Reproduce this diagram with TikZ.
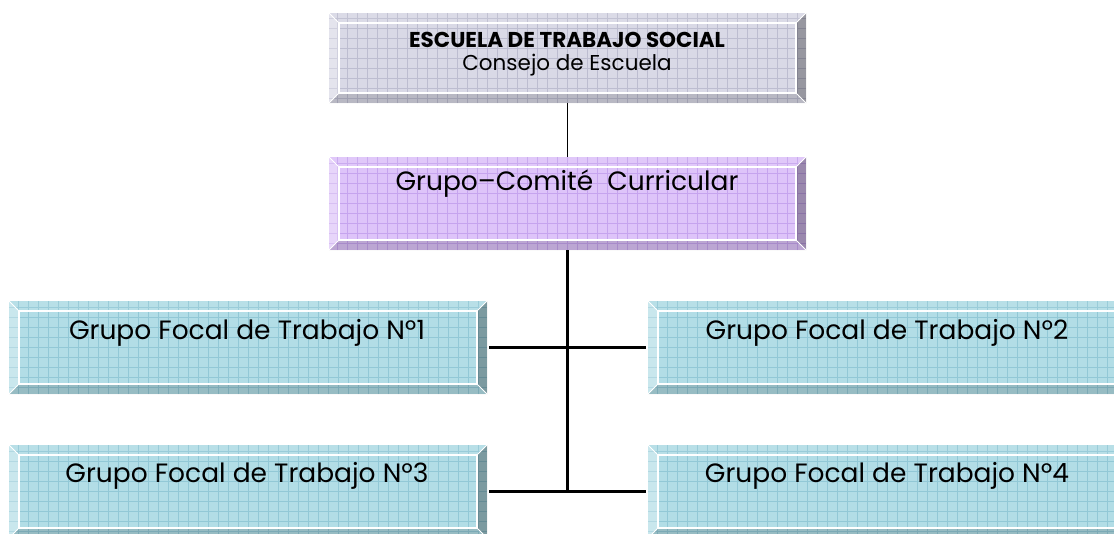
\documentclass[tikz,border=0pt]{standalone}
\usepackage{fontspec}
\setmainfont{Poppins}
\usetikzlibrary{calc}
\definecolor{grayF}{HTML}{D9D9E6}
\definecolor{grayG}{HTML}{BDBDD0}
\definecolor{purpF}{HTML}{DEC4F9}
\definecolor{purpG}{HTML}{C6A4EE}
\definecolor{tealF}{HTML}{B2DDE6}
\definecolor{tealG}{HTML}{92C8D6}
\tikzset{
  bev/.style n args={2}{rectangle, inner sep=0pt, fill=#1,
    path picture={
      \coordinate (NW) at (path picture bounding box.north west);
      \coordinate (NE) at (path picture bounding box.north east);
      \coordinate (SW) at (path picture bounding box.south west);
      \coordinate (SE) at (path picture bounding box.south east);
      \coordinate (nw) at ($(NW)+(10pt,-10pt)$);
      \coordinate (ne) at ($(NE)+(-10pt,-10pt)$);
      \coordinate (sw) at ($(SW)+(10pt,10pt)$);
      \coordinate (se) at ($(SE)+(-10pt,10pt)$);
      \draw[#2, line width=0.6pt] (SW) grid[step=10pt] (NE);
      \fill[white, opacity=0.30] (NW) -- (nw) -- (sw) -- (SW) -- cycle;
      \fill[white, opacity=0.08] (NW) -- (NE) -- (ne) -- (nw) -- cycle;
      \fill[black, opacity=0.30] (NE) -- (SE) -- (se) -- (ne) -- cycle;
      \fill[black, opacity=0.15] (SW) -- (SE) -- (se) -- (sw) -- cycle;
      \draw[white, line width=1.2pt] (nw) rectangle (se);
      \draw[white, line width=0.8pt] (NW) -- (nw) (NE) -- (ne) (SW) -- (sw) (SE) -- (se);
    }},
  boxtext/.style={inner sep=0pt, align=center, font=\fontsize{26.5}{30}\selectfont},
  thinline/.style={line width=1.5pt},
  thickline/.style={line width=2.3pt}
}
\begin{document}
\begin{tikzpicture}[x=1pt,y=-1pt]
\useasboundingbox[fill=white] (0,0) rectangle (1114,533);
% boxes
\node[bev={grayF}{grayG}, minimum width=477pt, minimum height=90pt] (top) at (567.5,58) {};
\node[bev={purpF}{purpG}, minimum width=477pt, minimum height=93pt] (cc) at (567.5,203.5) {};
\node[bev={tealF}{tealG}, minimum width=478pt, minimum height=93pt] (g1) at (248,347.5) {};
\node[bev={tealF}{tealG}, minimum width=478pt, minimum height=93pt] (g2) at (887,347.5) {};
\node[bev={tealF}{tealG}, minimum width=478pt, minimum height=93pt] (g3) at (248,491.5) {};
\node[bev={tealF}{tealG}, minimum width=478pt, minimum height=93pt] (g4) at (887,491.5) {};
% texts
\node[inner sep=0pt, font=\fontsize{21.5}{24}\selectfont\bfseries] (t0a) at (567,40) {ESCUELA DE TRABAJO SOCIAL};
\node[inner sep=0pt, font=\fontsize{21.5}{24}\selectfont] (t0b) at (567,65) {Consejo de Escuela};
\node[boxtext] (t1) at (567,184) {Grupo–Comité\ \ Curricular};
\node[boxtext] (tg1) at (247,333) {Grupo Focal de Trabajo Nº1};
\node[boxtext] (tg2) at (887,333) {Grupo Focal de Trabajo Nº2};
\node[boxtext] (tg3) at (247,476) {Grupo Focal de Trabajo Nº3};
\node[boxtext] (tg4) at (887,476) {Grupo Focal de Trabajo Nº4};
% connectors
\coordinate (j) at (cc.south |- g3.east);
\draw[thinline] (top.south) -- (cc.north);
\draw[thickline] (cc.south) -- (j);
\draw[thickline] ([xshift=2pt]g1.east) -- ([xshift=-2pt]g2.west);
\draw[thickline] ([xshift=2pt]g3.east) -- ([xshift=-2pt]g4.west);
\end{tikzpicture}
\end{document}
